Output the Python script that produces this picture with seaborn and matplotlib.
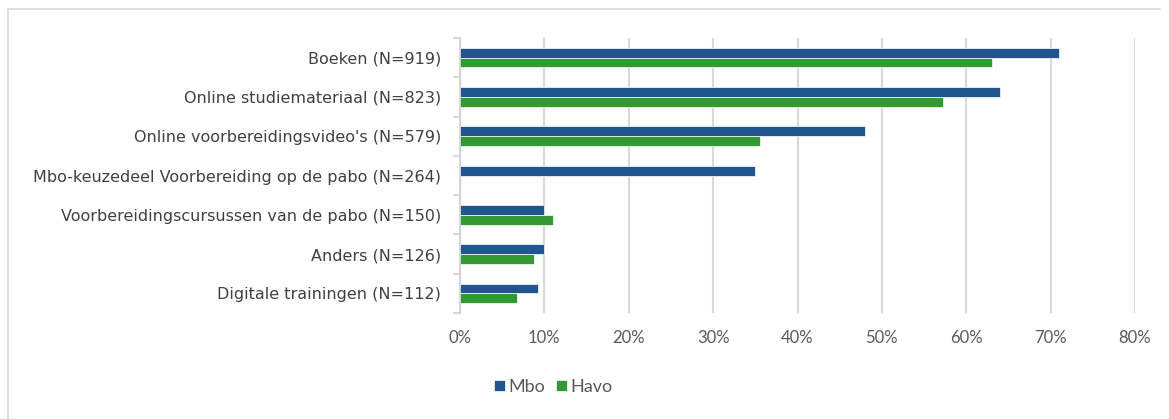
import numpy as np
import pandas as pd
import matplotlib
matplotlib.use("Agg")
import matplotlib.pyplot as plt
from matplotlib.lines import Line2D
from matplotlib.ticker import PercentFormatter, FixedLocator
import seaborn as sns

# data (percentages)
categories = [
    "Boeken (N=919)",
    "Online studiemateriaal (N=823)",
    "Online voorbereidingsvideo's (N=579)",
    "Mbo-keuzedeel Voorbereiding op de pabo (N=264)",
    "Voorbereidingscursussen van de pabo (N=150)",
    "Anders (N=126)",
    "Digitale trainingen (N=112)",
]
mbo = [71, 64, 48, 35, 10, 10, 9.3]
havo = [63, 57.3, 35.6, np.nan, 11, 8.8, 6.8]
groups = ["Mbo", "Havo"]
colors = ["#21558F", "#339A33"]

df = pd.DataFrame({
    "categorie": categories * 2,
    "groep": ["Mbo"] * len(categories) + ["Havo"] * len(categories),
    "pct": mbo + havo,
})

sns.set_style("white")
plt.rcParams["font.family"] = ["Lato", "DejaVu Sans"]

fig = plt.figure(figsize=(11.69, 4.19), dpi=100)
ax = fig.add_axes([460 / 1169, 106 / 419, 675 / 1169, 275 / 419])

sns.barplot(data=df, y="categorie", x="pct", hue="groep", order=categories,
            hue_order=groups, palette=colors, saturation=1, width=0.5,
            orient="h", edgecolor="white", linewidth=0.5, ax=ax)

# axes styling
ax.set_xlim(0, 80)
ax.set_ylim(6.5, -0.5)
ax.set_xticks(np.arange(0, 81, 10))
ax.xaxis.set_major_formatter(PercentFormatter(xmax=100, decimals=0))
ax.grid(axis="x", color="#d9d9d9", linewidth=1.5)
ax.set_axisbelow(True)
for s in ["top", "right", "bottom"]:
    ax.spines[s].set_visible(False)
ax.spines["left"].set_color("#d0d0d0")
ax.spines["left"].set_linewidth(1.2)

ax.yaxis.set_minor_locator(FixedLocator(np.arange(-0.5, 7, 1)))
ax.tick_params(axis="y", which="major", length=0, pad=13.5,
               labelsize=11.5, labelcolor="#404040")
ax.tick_params(axis="y", which="minor", length=5, width=1.2, color="#d0d0d0",
               left=True)
ax.tick_params(axis="x", length=0, pad=12, labelsize=12, labelcolor="#595959")
for lbl in ax.get_yticklabels():
    lbl.set_fontfamily(["DejaVu Sans"])
ax.set_xlabel("")
ax.set_ylabel("")

# legend below the plot
handles, labels = ax.get_legend_handles_labels()
ax.get_legend().remove()
fig.legend(handles, labels, loc="center", bbox_to_anchor=(553 / 1169, 1 - 387 / 419),
           ncol=2, frameon=False, fontsize=13, labelcolor="#595959",
           handlelength=0.6, handleheight=0.6, handletextpad=0.2,
           columnspacing=0.6)

# outer chart frame (top and left edges visible)
fig.add_artist(Line2D([8 / 1169, 1160 / 1169], [1 - 9 / 419, 1 - 9 / 419],
                      color="#d9d9d9", linewidth=1.2, transform=fig.transFigure))
fig.add_artist(Line2D([8 / 1169, 8 / 1169], [0, 1 - 9 / 419],
                      color="#d9d9d9", linewidth=1.2, transform=fig.transFigure))

plt.savefig("out.png", dpi=100)
